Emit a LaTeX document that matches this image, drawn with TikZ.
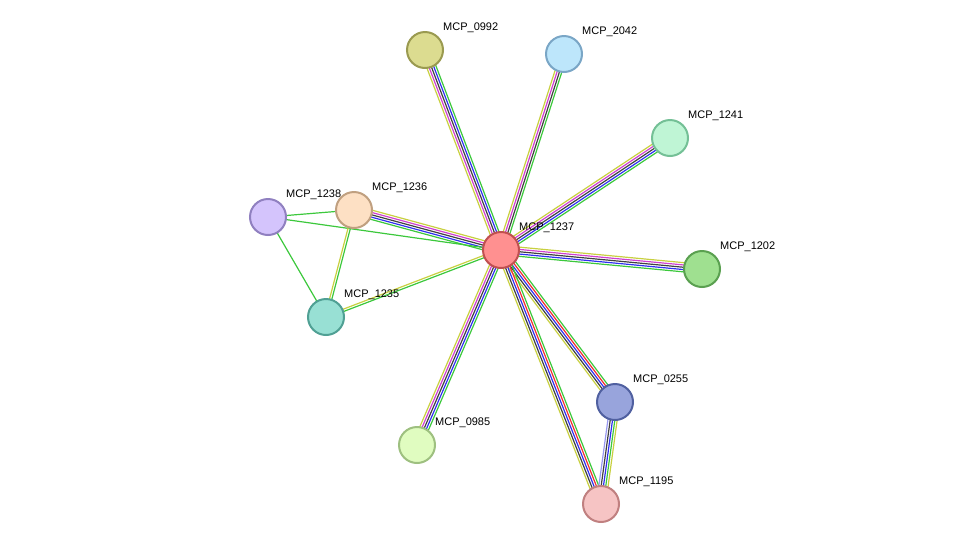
\documentclass[tikz,border=0pt]{standalone}
\usepackage{fontspec}
\setmainfont{Liberation Sans}
\usetikzlibrary{calc,backgrounds}
\definecolor{eGreen}{HTML}{3CC83C}
\definecolor{eYellow}{HTML}{C8D040}
\definecolor{eMagenta}{HTML}{D040D0}
\definecolor{eBlue}{HTML}{3030F0}
\definecolor{eBlack}{HTML}{404040}
\definecolor{eRed}{HTML}{F03030}
\definecolor{eLight}{HTML}{9898F0}
% parallel coloured links between two proteins
\newcommand{\linkset}[4]{%
  \foreach \c [count=\i] in {#4} {
    \pgfmathsetmacro{\off}{(\i-1)*2.3-(#3-1)*1.15}
    \draw[link, \c] ($(#1.center)!\off pt!90:(#2.center)$) -- ($(#2.center)!\off pt!-90:(#1.center)$);
  }}
\begin{document}
\begin{tikzpicture}[
    x=1pt, y=-1pt,
    every node/.style={font=\fontsize{11}{13}\selectfont},
    prot/.style={circle, line width=2pt, minimum size=36pt, inner sep=0pt},
    tag/.style={anchor=west, inner sep=0pt},
    link/.style={line width=1.2pt}
]
\useasboundingbox (0,0) rectangle (975,550);

% proteins
\node[prot, fill={rgb,255:red,255;green,144;blue,144}, draw={rgb,255:red,192;green,80;blue,80}] (p1237) at (501,250) {};
\node[prot, fill={rgb,255:red,220;green,220;blue,144}, draw={rgb,255:red,154;green,154;blue,80}] (p0992) at (425,50) {};
\node[prot, fill={rgb,255:red,189;green,230;blue,251}, draw={rgb,255:red,122;green,166;blue,198}] (p2042) at (564,54) {};
\node[prot, fill={rgb,255:red,191;green,245;blue,213}, draw={rgb,255:red,116;green,192;blue,150}] (p1241) at (670,138) {};
\node[prot, fill={rgb,255:red,159;green,224;blue,144}, draw={rgb,255:red,90;green,160;blue,80}] (p1202) at (702,269) {};
\node[prot, fill={rgb,255:red,152;green,164;blue,220}, draw={rgb,255:red,80;green,96;blue,160}] (p0255) at (615,402) {};
\node[prot, fill={rgb,255:red,246;green,196;blue,196}, draw={rgb,255:red,192;green,128;blue,128}] (p1195) at (601,504) {};
\node[prot, fill={rgb,255:red,224;green,252;blue,192}, draw={rgb,255:red,158;green,192;blue,128}] (p0985) at (417,445) {};
\node[prot, fill={rgb,255:red,152;green,224;blue,212}, draw={rgb,255:red,80;green,160;blue,148}] (p1235) at (326,317) {};
\node[prot, fill={rgb,255:red,212;green,196;blue,252}, draw={rgb,255:red,144;green,128;blue,192}] (p1238) at (268,217) {};
\node[prot, fill={rgb,255:red,253;green,224;blue,196}, draw={rgb,255:red,192;green,160;blue,128}] (p1236) at (354,210) {};

% labels
\foreach \p in {1237,0992,2042,1241,1202,0255,1195,0985,1235,1238,1236}
  \node[tag] (l\p) at ($(p\p)+(18,-22)$) {MCP\_\p};

% links
\begin{pgfonlayer}{background}
\linkset{p1237}{p0992}{5}{eGreen,eBlue,eBlack,eMagenta,eYellow}
\linkset{p1237}{p2042}{4}{eGreen,eBlack,eMagenta,eYellow}
\linkset{p1237}{p1241}{5}{eGreen,eBlue,eBlack,eMagenta,eYellow}
\linkset{p1237}{p1202}{5}{eGreen,eBlue,eBlack,eMagenta,eYellow}
\linkset{p1237}{p0255}{5}{eYellow,eBlack,eBlue,eRed,eGreen}
\linkset{p1237}{p1195}{5}{eYellow,eBlack,eBlue,eRed,eGreen}
\linkset{p1237}{p0985}{5}{eYellow,eMagenta,eBlack,eBlue,eGreen}
\linkset{p1237}{p1236}{5}{eYellow,eMagenta,eBlack,eBlue,eGreen}
\linkset{p1237}{p1235}{2}{eYellow,eGreen}
\linkset{p1237}{p1238}{1}{eGreen}
\linkset{p1238}{p1236}{1}{eGreen}
\linkset{p1238}{p1235}{1}{eGreen}
\linkset{p1236}{p1235}{2}{eYellow,eGreen}
\linkset{p0255}{p1195}{5}{eLight,eBlack,eBlue,eGreen,eYellow}
\end{pgfonlayer}
\end{tikzpicture}
\end{document}
